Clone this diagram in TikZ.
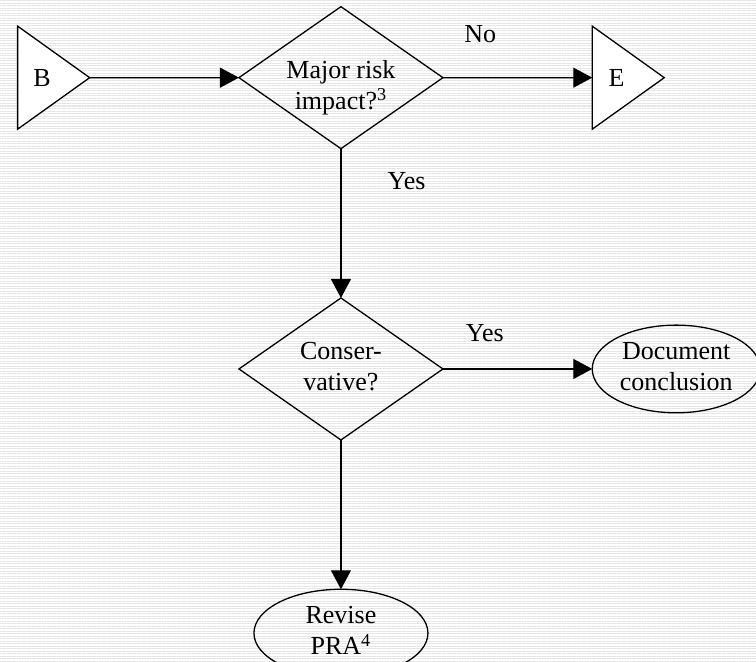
\documentclass[tikz,border=0pt]{standalone}
\usepackage{fontspec}
\setmainfont{Liberation Serif}
\usetikzlibrary{matrix,arrows.meta,shapes.geometric,patterns.meta}

\newcommand{\twolines}[2]{\begin{tabular}{@{}c@{}}#1\\#2\end{tabular}}

\tikzset{
	term/.style={isosceles triangle, isosceles triangle stretches, shape border rotate=0, draw, fill=white, inner sep=0pt, minimum width=51.5pt, minimum height=36pt, anchor=center},
	decision/.style={diamond, aspect=1.42, draw, inner sep=0pt, minimum width=102pt, minimum height=71pt, anchor=center},
	outcome/.style={ellipse, draw, inner sep=0pt, anchor=center},
}

\begin{document}
\begin{tikzpicture}[x=0.5pt, y=-0.5pt, line width=0.65pt, font=\fontsize{13}{15.5}\selectfont, >={Triangle[length=9.5pt,width=10pt]}]
	\fill[pattern={Lines[angle=0,distance=1.25pt,line width=0.5pt]}, pattern color=gray!20] (0,0) rectangle (756,661);
	\useasboundingbox (0,0) rectangle (756,661);
	\matrix (m) [matrix of nodes, column sep=74pt, row sep=74pt, inner sep=0pt, outer sep=0pt, matrix anchor=north west] at (17,6)
	{
		|[term]| B & |[decision]| \raisebox{-5pt}[\height][\depth]{\twolines{Major risk}{impact?\textsuperscript{3}}} & |[term,anchor=west]| E \\
		& |[decision]| \twolines{Conser-}{vative?} & |[outcome,minimum width=84pt,minimum height=39.5pt,anchor=west]| \twolines{Document}{conclusion} \\
		& |[outcome,minimum width=87pt,minimum height=38pt]| \twolines{Revise}{PRA\textsuperscript{4}} & \\
	};
	\path[->]
	(m-1-1)	edge (m-1-2)
	(m-1-2)	edge node[auto,pos=.25,inner sep=17pt]{No} (m-1-3)
			edge node[auto,pos=.22,inner sep=23pt]{Yes} (m-2-2)
	(m-2-2)	edge node[auto,pos=.28,inner sep=13.5pt]{Yes} (m-2-3)
			edge (m-3-2);
\end{tikzpicture}
\end{document}
